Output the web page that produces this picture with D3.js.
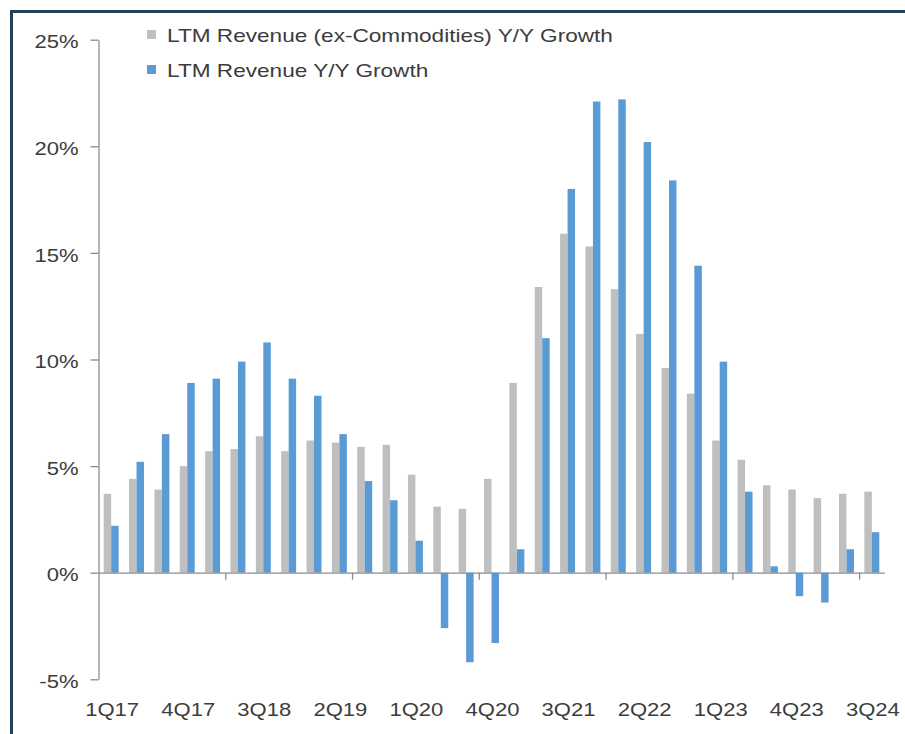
<!DOCTYPE html>
<html>
<head>
<meta charset="utf-8">
<script src="https://cdn.jsdelivr.net/npm/d3@7"></script>
<style>
  html, body { margin: 0; padding: 0; background: #ffffff; }
  svg { display: block; }
  text { font-family: "Liberation Sans", Arial, sans-serif; }
</style>
</head>
<body>
<svg id="chart" width="905" height="734"></svg>
<script>
// Quarters shown on the category axis (1Q17 .. 3Q24)
const quarters = [
  "1Q17","2Q17","3Q17","4Q17",
  "1Q18","2Q18","3Q18","4Q18",
  "1Q19","2Q19","3Q19","4Q19",
  "1Q20","2Q20","3Q20","4Q20",
  "1Q21","2Q21","3Q21","4Q21",
  "1Q22","2Q22","3Q22","4Q22",
  "1Q23","2Q23","3Q23","4Q23",
  "1Q24","2Q24","3Q24"
];

// LTM revenue growth excluding commodities, Y/Y %
const exCommodities = [
  3.7, 4.4, 3.9, 5.0,
  5.7, 5.8, 6.4, 5.7,
  6.2, 6.1, 5.9, 6.0,
  4.6, 3.1, 3.0, 4.4,
  8.9, 13.4, 15.9, 15.3,
  13.3, 11.2, 9.6, 8.4,
  6.2, 5.3, 4.1, 3.9,
  3.5, 3.7, 3.8
];

// LTM revenue growth, Y/Y %
const totalRevenue = [
  2.2, 5.2, 6.5, 8.9,
  9.1, 9.9, 10.8, 9.1,
  8.3, 6.5, 4.3, 3.4,
  1.5, -2.6, -4.2, -3.3,
  1.1, 11.0, 18.0, 22.1,
  22.2, 20.2, 18.4, 14.4,
  9.9, 3.8, 0.3, -1.1,
  -1.4, 1.1, 1.9
];

const seriesNames = ["LTM Revenue (ex-Commodities) Y/Y Growth", "LTM Revenue Y/Y Growth"];
const seriesColors = ["#bfbfbf", "#5b9bd5"];
const yTicks = [-5, 0, 5, 10, 15, 20, 25];
const labelEvery = 3;      // every third quarter is labelled
const tickEvery = 5;       // tick marks every fifth category boundary

const svg = d3.select("#chart");
const W = 905, H = 734;
const textColor = "#3c3c3c";
const axisColor = "#8c8c8c";
const stretch = 1.16;      // wide lettering
const legendStretch = 1.19;

svg.append("rect").attr("width", W).attr("height", H).attr("fill", "#ffffff");

// Frame (top and left edges)
svg.append("path")
  .attr("d", `M11.5,${H} L11.5,11.5 L${W},11.5`)
  .attr("fill", "none")
  .attr("stroke", "#243f5c")
  .attr("stroke-width", 3);

const plot = { left: 98.5, right: 884.5, top: 39.7, bottom: 679.3 };

const y = d3.scaleLinear().domain([-5, 25]).range([plot.bottom, plot.top]);
const x = d3.scaleBand().domain(quarters).range([plot.left, plot.right])
  .paddingInner(0.41).paddingOuter(0.205);
const xs = d3.scaleBand().domain([0, 1]).range([0, x.bandwidth()]).padding(0);
const idx = d3.scaleLinear().domain([0, quarters.length]).range([plot.left, plot.right]);

// Y axis
const yAxis = svg.append("g")
  .attr("transform", `translate(${plot.left},0)`)
  .call(d3.axisLeft(y).tickValues(yTicks).tickFormat(d => d + "%")
    .tickSize(8).tickSizeOuter(0).tickPadding(12));
yAxis.select(".domain").attr("stroke", axisColor).attr("stroke-width", 1.3);
yAxis.selectAll(".tick line").attr("stroke", axisColor).attr("stroke-width", 1.3);
yAxis.selectAll(".tick text")
  .attr("fill", textColor).attr("font-size", 19)
  .attr("dy", "0.38em")
  .attr("x", 0)
  .attr("transform", `translate(-20,1) scale(${stretch},1)`);

// Bars
const rows = quarters.map((q, i) => ({ q, vals: [exCommodities[i], totalRevenue[i]] }));
const groups = svg.append("g").selectAll("g").data(rows).join("g")
  .attr("transform", d => `translate(${x(d.q)},0)`);
groups.selectAll("rect").data(d => d.vals.map((v, k) => ({ v, k }))).join("rect")
  .attr("x", d => xs(d.k))
  .attr("width", xs.bandwidth())
  .attr("y", d => y(Math.max(0, d.v)))
  .attr("height", d => Math.abs(y(d.v) - y(0)))
  .attr("fill", d => seriesColors[d.k]);

// Zero line with tick marks at category boundaries
const zeroAxis = svg.append("g")
  .attr("transform", `translate(0,${y(0)})`)
  .call(d3.axisBottom(idx)
    .tickValues(d3.range(tickEvery, quarters.length, tickEvery))
    .tickFormat("").tickSize(7).tickSizeOuter(0));
zeroAxis.select(".domain").attr("stroke", axisColor).attr("stroke-width", 1.3);
zeroAxis.selectAll(".tick line").attr("stroke", axisColor).attr("stroke-width", 1.3);

// Quarter labels along the bottom
const xAxis = svg.append("g")
  .attr("transform", `translate(0,${plot.bottom})`)
  .call(d3.axisBottom(x)
    .tickValues(quarters.filter((q, i) => i % labelEvery === 0))
    .tickSize(0).tickPadding(0));
xAxis.select(".domain").remove();
xAxis.selectAll(".tick text")
  .attr("fill", textColor).attr("font-size", 19)
  .attr("dy", 0).attr("y", 0)
  .attr("transform", `translate(1,37) scale(${stretch},1)`);

// Legend
const legend = svg.append("g");
seriesNames.forEach((name, k) => {
  const ly = 42 + k * 35;
  legend.append("rect")
    .attr("x", 147).attr("y", ly - 12).attr("width", 9).attr("height", 9)
    .attr("fill", seriesColors[k]);
  legend.append("text")
    .attr("fill", textColor).attr("font-size", 19)
    .attr("transform", `translate(167,${ly}) scale(${legendStretch},1)`)
    .text(name);
});
</script>
</body>
</html>
